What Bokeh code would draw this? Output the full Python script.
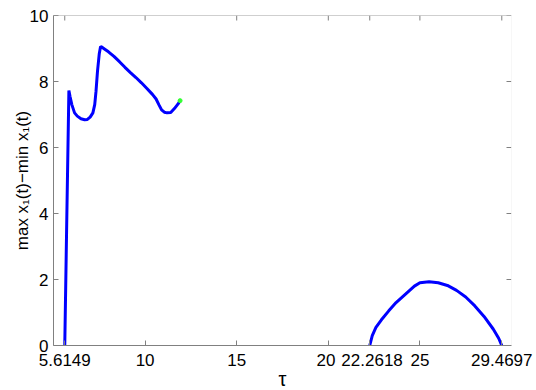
import math
from bokeh.plotting import figure
from bokeh.models import FixedTicker, Range1d, Span
from bokeh.embed import file_html
from bokeh.resources import INLINE

tau1 = [5.6149, 5.73, 5.84, 5.9, 6.0, 6.15, 6.3, 6.5, 6.7, 6.85, 7.0, 7.15, 7.25, 7.32, 7.4, 7.5,
        7.57, 7.65, 7.8, 8.0, 8.3, 8.6, 8.9, 9.2, 9.5, 9.8, 10.1, 10.4, 10.6, 10.75, 10.9, 11.05,
        11.2, 11.4, 11.6, 11.8, 11.91]
amp1 = [0.0, 4.0, 7.73, 7.55, 7.3, 7.05, 6.95, 6.87, 6.84, 6.85, 6.92, 7.05, 7.3, 7.7, 8.3, 8.85,
        9.06, 9.04, 8.98, 8.9, 8.76, 8.6, 8.43, 8.27, 8.12, 7.96, 7.79, 7.61, 7.47, 7.3, 7.14, 7.07,
        7.05, 7.06, 7.18, 7.32, 7.42]
tau2 = [22.2618, 22.4, 22.6, 22.9, 23.3, 23.7, 24.2, 24.7, 25.0, 25.5, 26.0, 26.5, 27.0, 27.5,
        28.0, 28.5, 29.0, 29.3, 29.4697]
amp2 = [0.0, 0.3, 0.55, 0.78, 1.05, 1.3, 1.55, 1.8, 1.9, 1.93, 1.9, 1.82, 1.67, 1.47, 1.2, 0.88,
        0.5, 0.22, 0.0]
end_tau = [11.91]
end_amp = [7.42]

x_ticks = [5.6149, 10, 15, 20, 22.2618, 25, 29.4697]
x_tick_labels = ["5.6149", "10", "15", "20\u00a0", "\u00a022.2618", "25", "29.4697"]
y_ticks = [0, 2, 4, 6, 8, 10]
X_MIN, X_MAX = 5, 30
Y_MIN, Y_MAX = 0, 10

FONT = "Liberation Sans"
GRAY = "#808080"

p = figure(frame_width=458, frame_height=330, output_backend="svg", toolbar_location=None,
           x_range=Range1d(X_MIN, X_MAX), y_range=Range1d(Y_MIN, Y_MAX),
           min_border_left=53, min_border_right=25, min_border_top=15, min_border_bottom=45)
p.outline_line_color = None
p.grid.visible = False
p.background_fill_color = "white"
p.border_fill_color = "white"

p.line(tau1, amp1, line_color="#0000ff", line_width=3)
p.line(tau2, amp2, line_color="#0000ff", line_width=3)
p.scatter(end_tau, end_amp, size=4, color="#33ff33")

# box: top line and a faint right line
p.add_layout(Span(location=Y_MAX, dimension="width", line_color="#a0a0a0", line_width=1))
p.add_layout(Span(location=X_MAX, dimension="height", line_color="#f0f0f0", line_width=1))

# box ticks on top and right (MATLAB style)
p.ray(x=x_ticks, y=[Y_MAX] * len(x_ticks), length=5, length_units="screen",
      angle=-math.pi / 2, line_color=GRAY, line_width=1)
p.ray(x=[X_MAX] * len(y_ticks), y=y_ticks, length=5, length_units="screen",
      angle=math.pi, line_color=GRAY, line_width=1)

xa = p.xaxis[0]
xa.ticker = FixedTicker(ticks=x_ticks)
xa.major_label_overrides = {t: l for t, l in zip(x_ticks, x_tick_labels)}
xa.axis_label = "τ"
ya = p.yaxis[0]
ya.ticker = FixedTicker(ticks=y_ticks)
ya.axis_label = "max x₁(t)−min x₁(t)"

for ax in (xa, ya):
    ax.axis_line_color = GRAY
    ax.major_tick_line_color = GRAY
    ax.major_tick_in = 5
    ax.major_tick_out = 0
    ax.minor_tick_line_color = None
    ax.major_label_text_font = FONT
    ax.major_label_text_font_size = "17px"
    ax.major_label_text_color = "black"
    ax.axis_label_text_font = FONT
    ax.axis_label_text_font_style = "normal"
    ax.axis_label_text_color = "black"

xa.major_label_standoff = 5
ya.major_label_standoff = 5
xa.axis_label_text_font_size = "20px"
xa.axis_label_standoff = -5
ya.axis_label_text_font_size = "17px"
ya.axis_label_standoff = -5

open("out.html", "w").write(file_html(p, INLINE))
